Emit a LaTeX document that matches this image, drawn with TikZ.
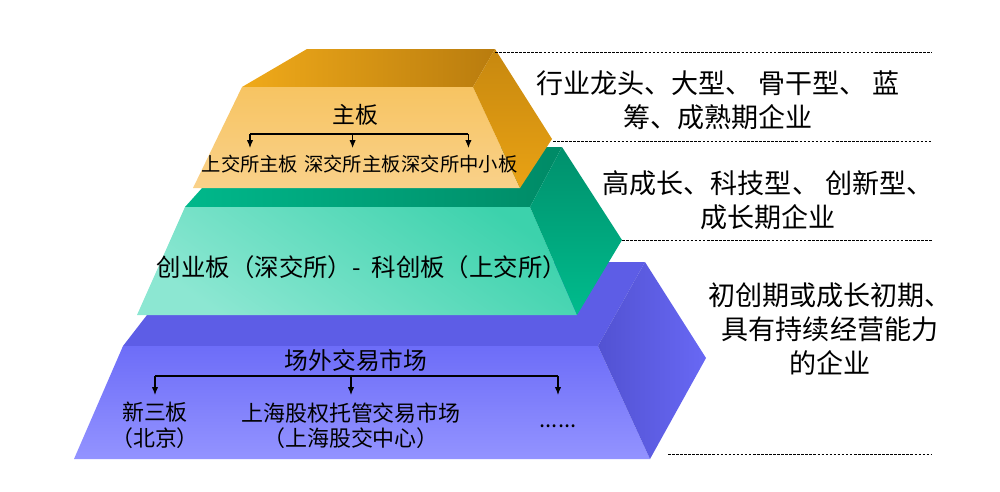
\documentclass[tikz,border=0pt]{standalone}
\usepackage{fontspec}
\setmainfont{Noto Sans CJK SC}
\usepackage{xcolor}
\usetikzlibrary{arrows.meta, positioning}

\definecolor{orTopL}{HTML}{F0AA1A}
\definecolor{orTopR}{HTML}{B97C0E}
\definecolor{orFrT}{HTML}{F7C462}
\definecolor{orFrB}{HTML}{F9D18A}
\definecolor{orSdT}{HTML}{C7880F}
\definecolor{orSdB}{HTML}{E9A214}
\definecolor{grTopL}{HTML}{00B88B}
\definecolor{grTopR}{HTML}{008A66}
\definecolor{grFrT}{HTML}{3CD2AC}
\definecolor{grFrB}{HTML}{8CE7D2}
\definecolor{grSdT}{HTML}{00906C}
\definecolor{grSdB}{HTML}{00BC8D}
\definecolor{blTop}{HTML}{5D5DE6}
\definecolor{blFrT}{HTML}{6D6DF8}
\definecolor{blFrB}{HTML}{9393FF}
\definecolor{blSdL}{HTML}{5252D2}
\definecolor{blSdR}{HTML}{6868F4}

\begin{document}
\begin{tikzpicture}[x=0.02cm, y=-0.02cm,
  tiertext/.style={inner sep=0pt, font=\fontsize{13}{15}\selectfont},
  subtext/.style={inner sep=4pt, anchor=north, align=center, font=\fontsize{12.5}{14.3}\selectfont},
  sidetext/.style={align=center, font=\fontsize{15.4}{19.3}\selectfont},
  sepline/.style={dash pattern=on 1.5pt off 0.8pt, line width=0.45pt},
  branch/.style={line width=0.6pt},
  tip/.style={line width=0.6pt, -{Latex[length=4.5pt,width=3.6pt]}}]
  \useasboundingbox (0,0) rectangle (1000,491);

  % bottom tier
  \fill[blTop] (188,262) -- (645,262) -- (598,346) -- (123,346) -- cycle;
  \shade[top color=blFrT, bottom color=blFrB] (123,346) -- (598,346) -- (650,459) -- (74,459) -- cycle;
  \shade[left color=blSdL, right color=blSdR] (598,346) -- (645,262) -- (706,358) -- (650,459) -- cycle;

  % middle tier
  \shade[left color=grTopL, right color=grTopR] (239,147) -- (562,147) -- (530,207) -- (185,207) -- cycle;
  \shade[top color=grFrT, bottom color=grFrB, shading angle=-35] (185,207) -- (530,207) -- (577,315) -- (137,315) -- cycle;
  \shade[top color=grSdT, bottom color=grSdB] (530,207) -- (562,147) -- (622,240) -- (577,315) -- cycle;

  % top tier
  \shade[left color=orTopL, right color=orTopR] (307,49) -- (495,49) -- (473,87) -- (242,87) -- cycle;
  \shade[top color=orFrT, bottom color=orFrB] (242,87) -- (473,87) -- (520,188) -- (193,188) -- cycle;
  \shade[top color=orSdT, bottom color=orSdB] (473,87) -- (495,49) -- (552,139) -- (520,188) -- cycle;

  % separators
  \draw[sepline] (495,52) -- (932,52);
  \draw[sepline] (553,141) -- (932,141);
  \draw[sepline] (622,240) -- (932,240);
  \draw[sepline] (668,454) -- (932,454);

  % top tier labels
  \node[tiertext] (zb) at (355,115) {主板};
  \coordinate (zbBar) at (0,134);
  \node[subtext, font=\fontsize{11}{13}\selectfont] (shzb) at (250,148) {上交所主板};
  \node[subtext, font=\fontsize{11}{13}\selectfont, right=-5pt of shzb] (szzb) {深交所主板};
  \node[subtext, font=\fontsize{11}{13}\selectfont, right=-8pt of szzb] (szzx) {深交所中小板};
  \draw[branch] (shzb |- zbBar) -- ([xshift=5pt]szzx |- zbBar);
  \draw[tip] (shzb |- zbBar) -- (shzb.north);
  \draw[tip] (szzb |- zbBar) -- (szzb.north);
  \draw[tip] ([xshift=5pt]szzx |- zbBar) -- ([xshift=5pt]szzx.north);

  % middle tier label
  \node[tiertext, font=\fontsize{13.9}{15}\selectfont] (cyb) at (362,267) {创业板（深交所）-\ \ 科创板（上交所）};

  % bottom tier labels
  \node[tiertext, font=\fontsize{13.5}{15}\selectfont] (cw) at (356,360) {场外交易市场};
  \coordinate (cwBar) at (0,376);
  \node[subtext] (xsb) at (155,395) {新三板\\（北京）};
  \node[subtext] (shgj) at (351,395) {上海股权托管交易市场\\（上海股交中心）};
  \node[subtext] (more) at (558,395) {\\......};
  \draw[branch] (xsb |- cwBar) -- (more |- cwBar);
  \draw[tip] (xsb |- cwBar) -- (xsb.north);
  \draw[tip] (shgj |- cwBar) -- (shgj.north);
  \draw[tip] (more |- cwBar) -- (more.north);

  % right descriptions
  \node[sidetext] (ms) at (718,100) {行业龙头、大型、 骨干型、 蓝\\筹、成熟期企业};
  \node[sidetext] (gc) at (768,200) {高成长、科技型、 创新型、\\成长期企业};
  \node[sidetext] (cc) at (830,329) {初创期或成长初期、\\具有持续经营能力\\的企业};
\end{tikzpicture}
\end{document}
